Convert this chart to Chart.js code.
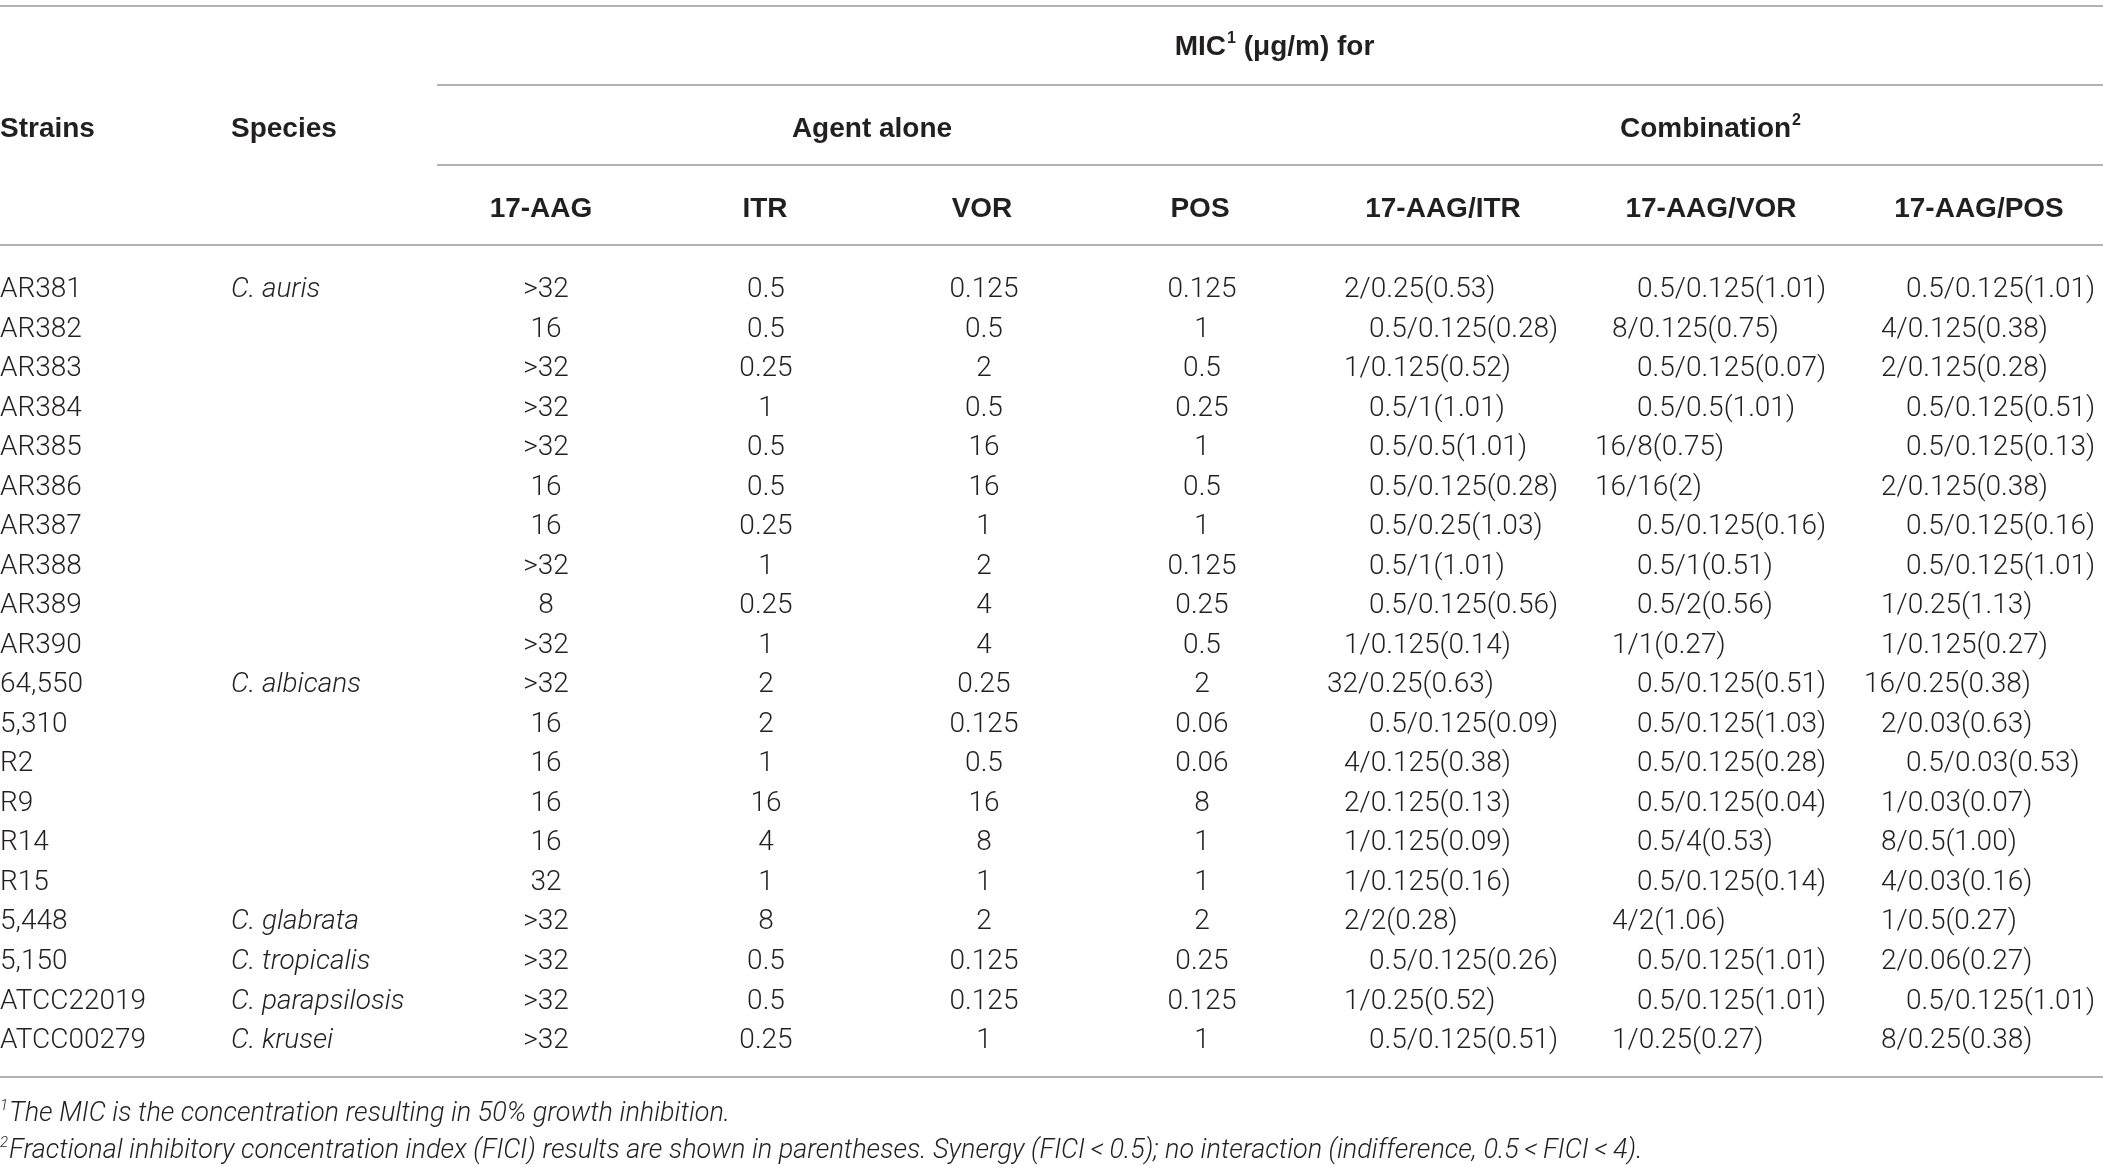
<!DOCTYPE html>
<html>
<head>
<meta charset="utf-8">
<script src="https://cdn.jsdelivr.net/npm/chart.js@4.4.0/dist/chart.umd.min.js"></script>
<style>
html,body{margin:0;padding:0;background:#fff;overflow:hidden}
canvas{display:block}
</style>
</head>
<body>
<canvas id="c" width="2103" height="1167"></canvas>
<script>
// ---------- DATA ----------
const strains = ["AR381","AR382","AR383","AR384","AR385","AR386","AR387","AR388","AR389","AR390",
  "64,550","5,310","R2","R9","R14","R15","5,448","5,150","ATCC22019","ATCC00279"];
const species = ["C. auris","","","","","","","","","",
  "C. albicans","","","","","","C. glabrata","C. tropicalis","C. parapsilosis","C. krusei"];
const aag = [">32","16",">32",">32",">32","16","16",">32","8",">32",
  ">32","16","16","16","16","32",">32",">32",">32",">32"];
const itr = ["0.5","0.5","0.25","1","0.5","0.5","0.25","1","0.25","1",
  "2","2","1","16","4","1","8","0.5","0.5","0.25"];
const vor = ["0.125","0.5","2","0.5","16","16","1","2","4","4",
  "0.25","0.125","0.5","16","8","1","2","0.125","0.125","1"];
const pos = ["0.125","1","0.5","0.25","1","0.5","1","0.125","0.25","0.5",
  "2","0.06","0.06","8","1","1","2","0.25","0.125","1"];
const aagItr = ["2/0.25(0.53)","0.5/0.125(0.28)","1/0.125(0.52)","0.5/1(1.01)","0.5/0.5(1.01)",
  "0.5/0.125(0.28)","0.5/0.25(1.03)","0.5/1(1.01)","0.5/0.125(0.56)","1/0.125(0.14)",
  "32/0.25(0.63)","0.5/0.125(0.09)","4/0.125(0.38)","2/0.125(0.13)","1/0.125(0.09)",
  "1/0.125(0.16)","2/2(0.28)","0.5/0.125(0.26)","1/0.25(0.52)","0.5/0.125(0.51)"];
const aagVor = ["0.5/0.125(1.01)","8/0.125(0.75)","0.5/0.125(0.07)","0.5/0.5(1.01)","16/8(0.75)",
  "16/16(2)","0.5/0.125(0.16)","0.5/1(0.51)","0.5/2(0.56)","1/1(0.27)",
  "0.5/0.125(0.51)","0.5/0.125(1.03)","0.5/0.125(0.28)","0.5/0.125(0.04)","0.5/4(0.53)",
  "0.5/0.125(0.14)","4/2(1.06)","0.5/0.125(1.01)","0.5/0.125(1.01)","1/0.25(0.27)"];
const aagPos = ["0.5/0.125(1.01)","4/0.125(0.38)","2/0.125(0.28)","0.5/0.125(0.51)","0.5/0.125(0.13)",
  "2/0.125(0.38)","0.5/0.125(0.16)","0.5/0.125(1.01)","1/0.25(1.13)","1/0.125(0.27)",
  "16/0.25(0.38)","2/0.03(0.63)","0.5/0.03(0.53)","1/0.03(0.07)","8/0.5(1.00)",
  "4/0.03(0.16)","1/0.5(0.27)","2/0.06(0.27)","0.5/0.125(1.01)","8/0.25(0.38)"];
const columnHeaders = ["Strains","Species","17-AAG","ITR","VOR","POS","17-AAG/ITR","17-AAG/VOR","17-AAG/POS"];
const topHeader = {text:"MIC", sup:"1", rest:" (\u03bcg/m) for"};
const groupHeaders = [{text:"Agent alone", sup:""},{text:"Combination", sup:"2"}];
const footnotes = [
  {sup:"1", text:"The MIC is the concentration resulting in 50% growth inhibition."},
  {sup:"2", text:"Fractional inhibitory concentration index (FICI) results are shown in parentheses. Synergy (FICI\u2009<\u20090.5); no interaction (indifference, 0.5\u2009<\u2009FICI\u2009<\u20094)."}
];

// ---------- LAYOUT (not data) ----------
const columns = [strains, species, aag, itr, vor, pos, aagItr, aagVor, aagPos];
const colKind = ["left","italic","center","center","center","center","combo","combo","combo"];
const colX = [0, 231, 546, 766, 984, 1202, 1344, 1612, 1881];
const headX = [0, 231, 541, 765, 982, 1200, 1443, 1711, 1979];
const groupX = [872, 1710];
const L = {
  W: 2103, H: 1167,
  lines: [{y:6,x0:0},{y:85,x0:437},{y:165,x0:437},{y:245,x0:0},{y:1077,x0:0}],
  micBase: 55, groupBase: 137, headBase: 217, rowBaseOff: 10,
  footBase: [1121, 1158],
  bodyFont: '300 28px Roboto, "Liberation Sans", sans-serif',
  italFont: 'italic 300 28px Roboto, "Liberation Sans", sans-serif',
  boldFont: 'bold 28px "Liberation Sans", Arial, sans-serif',
  supBold: 'bold 16px "Liberation Sans", Arial, sans-serif',
  footFont: 'italic 300 27px Roboto, "Liberation Sans", sans-serif',
  footSup: 'italic 300 15px Roboto, "Liberation Sans", sans-serif',
  text: '#231f20', rule: '#9a9a9a'
};

function comboStart(anchor, s) {
  if (s.startsWith('0.5/')) return anchor + 25;
  const m = s.match(/^(\d+)\//);
  if (m && m[1].length === 2) return anchor - 17;
  return anchor;
}

const tablePlugin = {
  id: 'tableText',
  afterDatasetsDraw(chart) {
    const ctx = chart.ctx;
    const xs = chart.scales.x;
    ctx.save();
    // rules
    ctx.strokeStyle = L.rule; ctx.lineWidth = 1.6;
    L.lines.forEach(l => { ctx.beginPath(); ctx.moveTo(xs.getPixelForValue(l.x0), l.y); ctx.lineTo(xs.getPixelForValue(L.W), l.y); ctx.stroke(); });
    ctx.fillStyle = L.text;
    ctx.textBaseline = 'alphabetic';
    // top header: MIC¹ (μg/m) for
    ctx.font = L.boldFont;
    const w1 = ctx.measureText(topHeader.text).width;
    const w3 = ctx.measureText(topHeader.rest).width;
    ctx.font = L.supBold;
    const w2 = ctx.measureText(topHeader.sup).width;
    let x = xs.getPixelForValue(1274) - (w1 + w2 + w3) / 2;
    ctx.textAlign = 'left';
    ctx.font = L.boldFont; ctx.fillText(topHeader.text, x, L.micBase);
    ctx.font = L.supBold; ctx.fillText(topHeader.sup, x + w1 + 1, L.micBase - 12);
    ctx.font = L.boldFont; ctx.fillText(topHeader.rest, x + w1 + w2 + 1, L.micBase);
    // group headers
    groupHeaders.forEach((g, i) => {
      ctx.font = L.boldFont;
      const tw = ctx.measureText(g.text).width;
      ctx.font = L.supBold;
      const sw = g.sup ? ctx.measureText(g.sup).width : 0;
      const gx = xs.getPixelForValue(groupX[i]) - (tw + sw) / 2;
      ctx.font = L.boldFont; ctx.fillText(g.text, gx, L.groupBase);
      if (g.sup) { ctx.font = L.supBold; ctx.fillText(g.sup, gx + tw + 1, L.groupBase - 12); }
    });
    // column headers
    ctx.font = L.boldFont;
    columnHeaders.forEach((h, i) => {
      const px = xs.getPixelForValue(headX[i]);
      if (i < 2) { ctx.textAlign = 'left'; ctx.fillText(h, px, L.groupBase); }
      else { ctx.textAlign = 'center'; ctx.fillText(h, px, L.headBase); }
    });
    // cells
    chart.data.datasets.forEach((ds, di) => {
      const meta = chart.getDatasetMeta(di);
      const kind = colKind[di];
      meta.data.forEach((pt, ri) => {
        const s = ds.texts[ri];
        if (!s) return;
        const y = pt.y + L.rowBaseOff;
        if (kind === 'center') { ctx.font = L.bodyFont; ctx.textAlign = 'center'; ctx.fillText(s, pt.x, y); }
        else if (kind === 'combo') { ctx.font = L.bodyFont; ctx.textAlign = 'left'; ctx.fillText(s, comboStart(pt.x, s), y); }
        else if (kind === 'italic') { ctx.font = L.italFont; ctx.textAlign = 'left'; ctx.fillText(s, pt.x, y); }
        else { ctx.font = L.bodyFont; ctx.textAlign = 'left'; ctx.fillText(s, pt.x, y); }
      });
    });
    // footnotes
    ctx.textAlign = 'left';
    footnotes.forEach((f, i) => {
      ctx.font = L.footSup;
      const sw = ctx.measureText(f.sup).width;
      ctx.fillText(f.sup, 0, L.footBase[i] - 11);
      ctx.font = L.footFont;
      ctx.fillText(f.text, sw + 1, L.footBase[i]);
    });
    ctx.restore();
  }
};

const rowPitch = 39.53;
const firstRow = 287;
new Chart(document.getElementById('c'), {
  type: 'scatter',
  data: {
    datasets: columns.map((col, ci) => ({
      label: columnHeaders[ci],
      data: col.map((v, ri) => ({ x: colX[ci], y: strains[ri] })),
      texts: col,
      pointRadius: 0,
      pointHoverRadius: 0,
      showLine: false
    }))
  },
  options: {
    responsive: false,
    animation: false,
    devicePixelRatio: 1,
    events: [],
    layout: { padding: { left: 0, right: 0, top: firstRow - rowPitch / 2, bottom: L.H - (firstRow + rowPitch * (strains.length - 0.5)) } },
    scales: {
      x: { type: 'linear', min: 0, max: L.W, display: false },
      y: { type: 'category', labels: strains, offset: true, display: false }
    },
    plugins: { legend: { display: false }, tooltip: { enabled: false } }
  },
  plugins: [tablePlugin]
});
</script>
</body>
</html>
